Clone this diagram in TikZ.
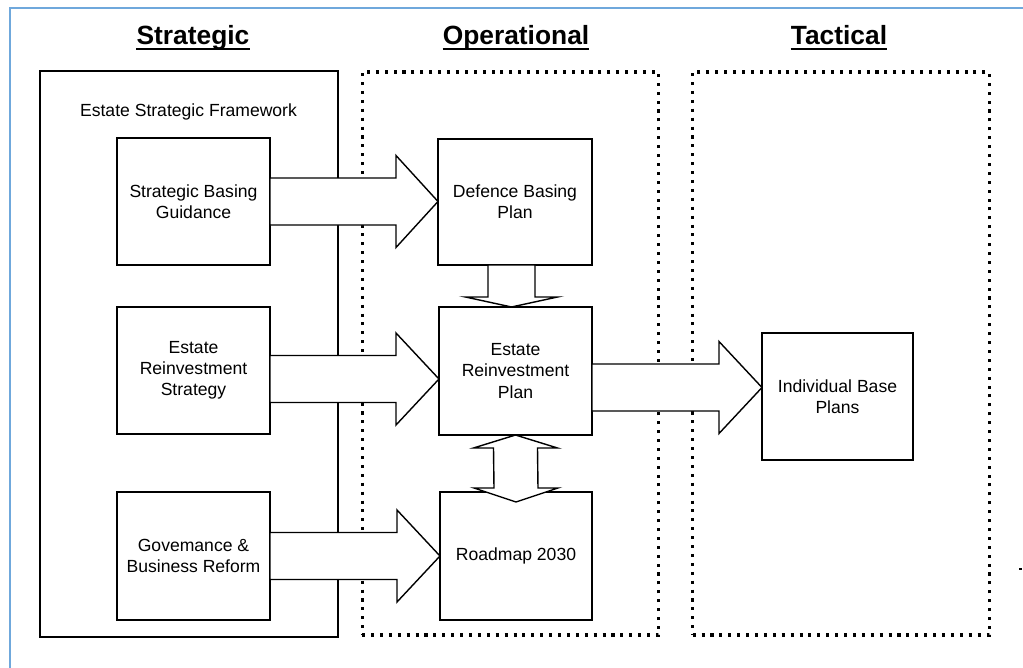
\documentclass[tikz,border=0pt]{standalone}
\usepackage{fontspec}
\setmainfont{Liberation Sans}
\usetikzlibrary{calc}
\definecolor{edgeblue}{RGB}{111,168,220}

% right-pointing block arrow: #1 start, #2 tip (same height), #3 shaft half width, #4 head half width, #5 head length
\newcommand\rblock[5]{%
  \draw[blockarrow] ($(#1)+(0,-#3)$) -- ($(#2)+(-#5,-#3)$) -- ($(#2)+(-#5,-#4)$) -- (#2)
    -- ($(#2)+(-#5,#4)$) -- ($(#2)+(-#5,#3)$) -- ($(#1)+(0,#3)$) -- cycle;}
% downward block arrow: #1 start, #2 tip (same column), #3 shaft half width, #4 head half width, #5 head length
\newcommand\dblock[5]{%
  \draw[blockarrow] ($(#1)+(-#3,0)$) -- ($(#2)+(-#3,-#5)$) -- ($(#2)+(-#4,-#5)$) -- (#2)
    -- ($(#2)+(#4,-#5)$) -- ($(#2)+(#3,-#5)$) -- ($(#1)+(#3,0)$) -- cycle;}

\begin{document}
\begin{tikzpicture}[x=0.03cm,y=-0.03cm,
  box/.style={draw, line width=1.2pt, fill=white, inner sep=0pt, outer sep=0pt,
    align=center, font=\fontsize{15}{18}\selectfont,
    minimum width=4.59cm, minimum height=3.82cm},
  solidframe/.style={draw, line width=1.2pt, inner sep=0pt, outer sep=0pt},
  dotframe/.style={draw, line width=2.6pt, dash pattern=on 2.6pt off 5pt,
    inner sep=0pt, outer sep=0pt, minimum width=8.9cm, minimum height=16.89cm},
  heading/.style={font=\fontsize{22.5}{27}\bfseries\selectfont, anchor=base, inner sep=0pt},
  rule/.style={line width=1.9pt},
  blockarrow/.style={draw, line width=1.2pt, fill=white, line join=miter},
  border/.style={draw=edgeblue, line width=1.8pt}]

\useasboundingbox (0,0) rectangle (1023,668);
\fill[white] (0,0) rectangle (1023,668);
\draw[border] (10,668) -- (10,8) -- (1023,8);

% column headings
\node[heading] (hstrat) at (193,44) {Strategic};
\node[heading] (hoper) at (516,44) {Operational};
\node[heading] (htact) at (839,44) {Tactical};
\foreach \h in {hstrat,hoper,htact}
  \draw[rule] ($(\h.base west)+(0,5)$) -- ($(\h.base east)+(0,5)$);

% column frames
\node[solidframe, minimum width=8.94cm, minimum height=16.98cm] (strat) at (189,354) {};
\node[dotframe] (oper) at (510.5,353.5) {};
\node[dotframe] (tact) at (841,353.5) {};
\node[font=\fontsize{15}{18}\selectfont] (esf) at (188.5,112) {Estate Strategic Framework};

% strategic boxes
\node[box] (sbg) at (193.5,201.5) {Strategic Basing\\Guidance};
\node[box] (ers) at (193.5,370.5) {Estate\\Reinvestment\\Strategy};
\node[box, minimum height=3.84cm] (gbr) at (193.5,556) {Govemance \&\\Business Reform};

% operational boxes
\node[box, minimum width=4.62cm, minimum height=3.78cm] (dbp) at (515,202) {Defence Basing\\Plan};
\node[box, minimum height=3.84cm] (erp) at (515.5,371) {Estate\\Reinvestment\\Plan};
\node[box, minimum width=4.56cm, minimum height=3.84cm] (rm) at (516,556) {Roadmap 2030};

% tactical box
\node[box, minimum width=4.53cm, minimum height=3.81cm] (ibp) at (837.5,396.5) {Individual Base\\Plans};

% horizontal block arrows
\coordinate (a1s) at (sbg.east);
\coordinate (a1t) at (a1s -| dbp.west);
\rblock{a1s}{a1t}{23.5}{46}{42}
\coordinate (a2s) at ($(ers.east)+(0,8.5)$);
\coordinate (a2t) at (a2s -| erp.west);
\rblock{a2s}{a2t}{23.5}{46}{43}
\coordinate (a3s) at (gbr.east);
\coordinate (a3t) at (a3s -| rm.west);
\rblock{a3s}{a3t}{23.5}{46}{43}
\coordinate (a4s) at ($(erp.east)+(0,16.5)$);
\coordinate (a4t) at (a4s -| ibp.west);
\rblock{a4s}{a4t}{23.5}{46}{43}

% downward arrow from the basing plan
\coordinate (d1s) at ($(dbp.south)+(-3.5,0)$);
\coordinate (d1t) at (d1s |- erp.north);
\dblock{d1s}{d1t}{23.5}{46}{10}

% two-way arrow between reinvestment plan and roadmap
\coordinate (u1) at (erp.south);
\coordinate (u2) at ($(rm.north)+(0,10)$);
\draw[blockarrow] (u1) -- ($(u1)+(42,13)$) -- ($(u1)+(22,13)$) -- ($(u2)+(22,-14)$)
  -- ($(u2)+(42,-14)$) -- (u2) -- ($(u2)+(-42,-14)$) -- ($(u2)+(-22,-14)$)
  -- ($(u1)+(-22,13)$) -- ($(u1)+(-42,13)$) -- cycle;

% stray mark at the right edge
\coordinate (mk) at (1019,569);
\draw[line width=1.6pt] (mk) -- ++(3,0);
\end{tikzpicture}
\end{document}
